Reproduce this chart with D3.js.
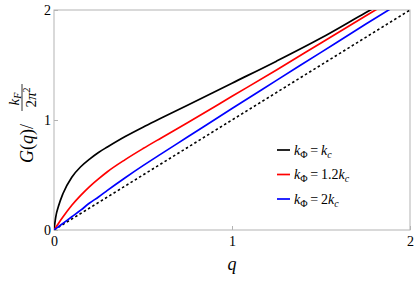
<!DOCTYPE html>
<html>
<head>
<meta charset="utf-8">
<script src="https://cdn.jsdelivr.net/npm/d3@7"></script>
<style>
    body { margin: 0; background: #fff; }
    svg { display: block; }
</style>
</head>
<body>
<svg id="chart" width="415" height="281"></svg>
<script>
// values
const qValues = [0, 0.01, 0.025, 0.05, 0.1, 0.15, 0.2, 0.25, 0.3, 0.4, 0.5, 0.6, 0.75, 1.0, 1.25, 1.5, 1.75, 2.0];
const gBlack = [0, 0.12, 0.215, 0.33, 0.48, 0.575, 0.645, 0.705, 0.755, 0.85, 0.935, 1.015, 1.135, 1.335, 1.535, 1.745, 1.975, 2.2];
const gRed = [0, 0.024, 0.06, 0.118, 0.225, 0.315, 0.395, 0.465, 0.53, 0.64, 0.74, 0.835, 0.975, 1.215, 1.455, 1.7, 1.945, 2.19];
const gBlue = [0, 0.012, 0.03, 0.06, 0.12, 0.18, 0.245, 0.30, 0.36, 0.475, 0.585, 0.69, 0.845, 1.105, 1.36, 1.615, 1.87, 2.12];
const qFree = [0, 2];
const gFree = [0, 2];

const tickValues = [0, 1, 2];
const legendCoef = ['', '1.2', '2'];
const colors = ['#000000', '#ff0000', '#0000ff'];

const FONT = 'Liberation Serif, DejaVu Serif, serif';

const svg = d3.select('#chart').attr('font-family', FONT);
const margin = { left: 54, right: 5, top: 10, bottom: 51 };
const width = 415, height = 281;

const x = d3.scaleLinear().domain([0, 2]).range([margin.left, width - margin.right]);
const y = d3.scaleLinear().domain([0, 2]).range([height - margin.bottom, margin.top]);

svg.append('defs').append('clipPath').attr('id', 'clip')
    .append('rect')
    .attr('x', x(0)).attr('y', y(2))
    .attr('width', x(2) - x(0)).attr('height', y(0) - y(2));

// frame
svg.append('rect')
    .attr('x', x(0)).attr('y', y(2))
    .attr('width', x(2) - x(0)).attr('height', y(0) - y(2))
    .attr('fill', 'none').attr('stroke', '#b3b3b3').attr('stroke-width', 1);

// axes, only the inner ticks are drawn
const xAxis = svg.append('g')
    .attr('transform', `translate(0,${y(0)})`)
    .call(d3.axisBottom(x).tickValues(tickValues).tickFormat(d3.format('d')).tickSize(-4).tickPadding(4));
const yAxis = svg.append('g')
    .attr('transform', `translate(${x(0)},0)`)
    .call(d3.axisLeft(y).tickValues(tickValues).tickFormat(d3.format('d')).tickSize(-4).tickPadding(3));

[xAxis, yAxis].forEach(a => {
    a.attr('font-family', FONT).attr('font-size', 14);
    a.select('.domain').remove();
    a.selectAll('line').attr('stroke', '#b3b3b3');
    a.selectAll('text').attr('fill', '#000');
});
xAxis.selectAll('text').attr('dy', '0.85em');
yAxis.selectAll('text').attr('dy', '0.35em');

// curves
const plot = svg.append('g').attr('clip-path', 'url(#clip)');
const line = d3.line()
    .x(d => x(d[0]))
    .y(d => y(d[1]))
    .curve(d3.curveMonotoneX);

plot.append('path')
    .datum(qFree.map((q, i) => [q, gFree[i]]))
    .attr('d', line)
    .attr('fill', 'none')
    .attr('stroke', '#000')
    .attr('stroke-width', 1.6)
    .attr('stroke-dasharray', '2.5,2.5');

[gBlack, gRed, gBlue].forEach((series, i) => {
    plot.append('path')
        .datum(qValues.map((q, j) => [q, series[j]]))
        .attr('d', line)
        .attr('fill', 'none')
        .attr('stroke', colors[i])
        .attr('stroke-width', 1.7);
});

// legend
const legend = svg.append('g').attr('transform', 'translate(277,150)');
legendCoef.forEach((c, i) => {
    const row = legend.append('g').attr('transform', `translate(0,${i * 24.5})`);
    row.append('line')
        .attr('x1', 0).attr('x2', 13)
        .attr('stroke', colors[i]).attr('stroke-width', 1.7);
    const t = row.append('text')
        .attr('x', 17).attr('y', 4.5)
        .attr('font-size', 14);
    t.append('tspan').attr('font-style', 'italic').text('k');
    t.append('tspan').attr('dy', 3).attr('font-size', 10).text('Φ');
    t.append('tspan').attr('dy', -3).text('\u2009=\u2009' + c);
    t.append('tspan').attr('font-style', 'italic').text('k');
    t.append('tspan').attr('dy', 3).attr('font-size', 10).attr('font-style', 'italic').text('c');
});

// axis titles
svg.append('text')
    .attr('x', x(1)).attr('y', 270)
    .attr('text-anchor', 'middle')
    .attr('font-size', 18).attr('font-style', 'italic')
    .text('q');

const yTitle = svg.append('g').attr('transform', 'translate(33,124) rotate(-90)');
const gText = yTitle.append('text')
    .attr('x', -39).attr('y', 0)
    .attr('font-size', 18);
gText.append('tspan').attr('font-style', 'italic').text('G');
gText.append('tspan').text('(');
gText.append('tspan').attr('font-style', 'italic').text('q');
gText.append('tspan').text(')/');

yTitle.append('line')
    .attr('x1', 13).attr('x2', 40)
    .attr('y1', -11).attr('y2', -11)
    .attr('stroke', '#000').attr('stroke-width', 0.8);
const num = yTitle.append('text')
    .attr('x', 25).attr('y', -14.5)
    .attr('text-anchor', 'middle')
    .attr('font-size', 15);
num.append('tspan').attr('font-style', 'italic').text('k');
num.append('tspan').attr('dy', 2).attr('font-size', 10).attr('font-style', 'italic').text('F');
const den = yTitle.append('text')
    .attr('x', 26.5).attr('y', 2.5)
    .attr('text-anchor', 'middle')
    .attr('font-size', 15);
den.append('tspan').text('2');
den.append('tspan').attr('font-style', 'italic').text('π');
den.append('tspan').attr('dy', -6).attr('font-size', 10).text('2');
</script>
</body>
</html>
